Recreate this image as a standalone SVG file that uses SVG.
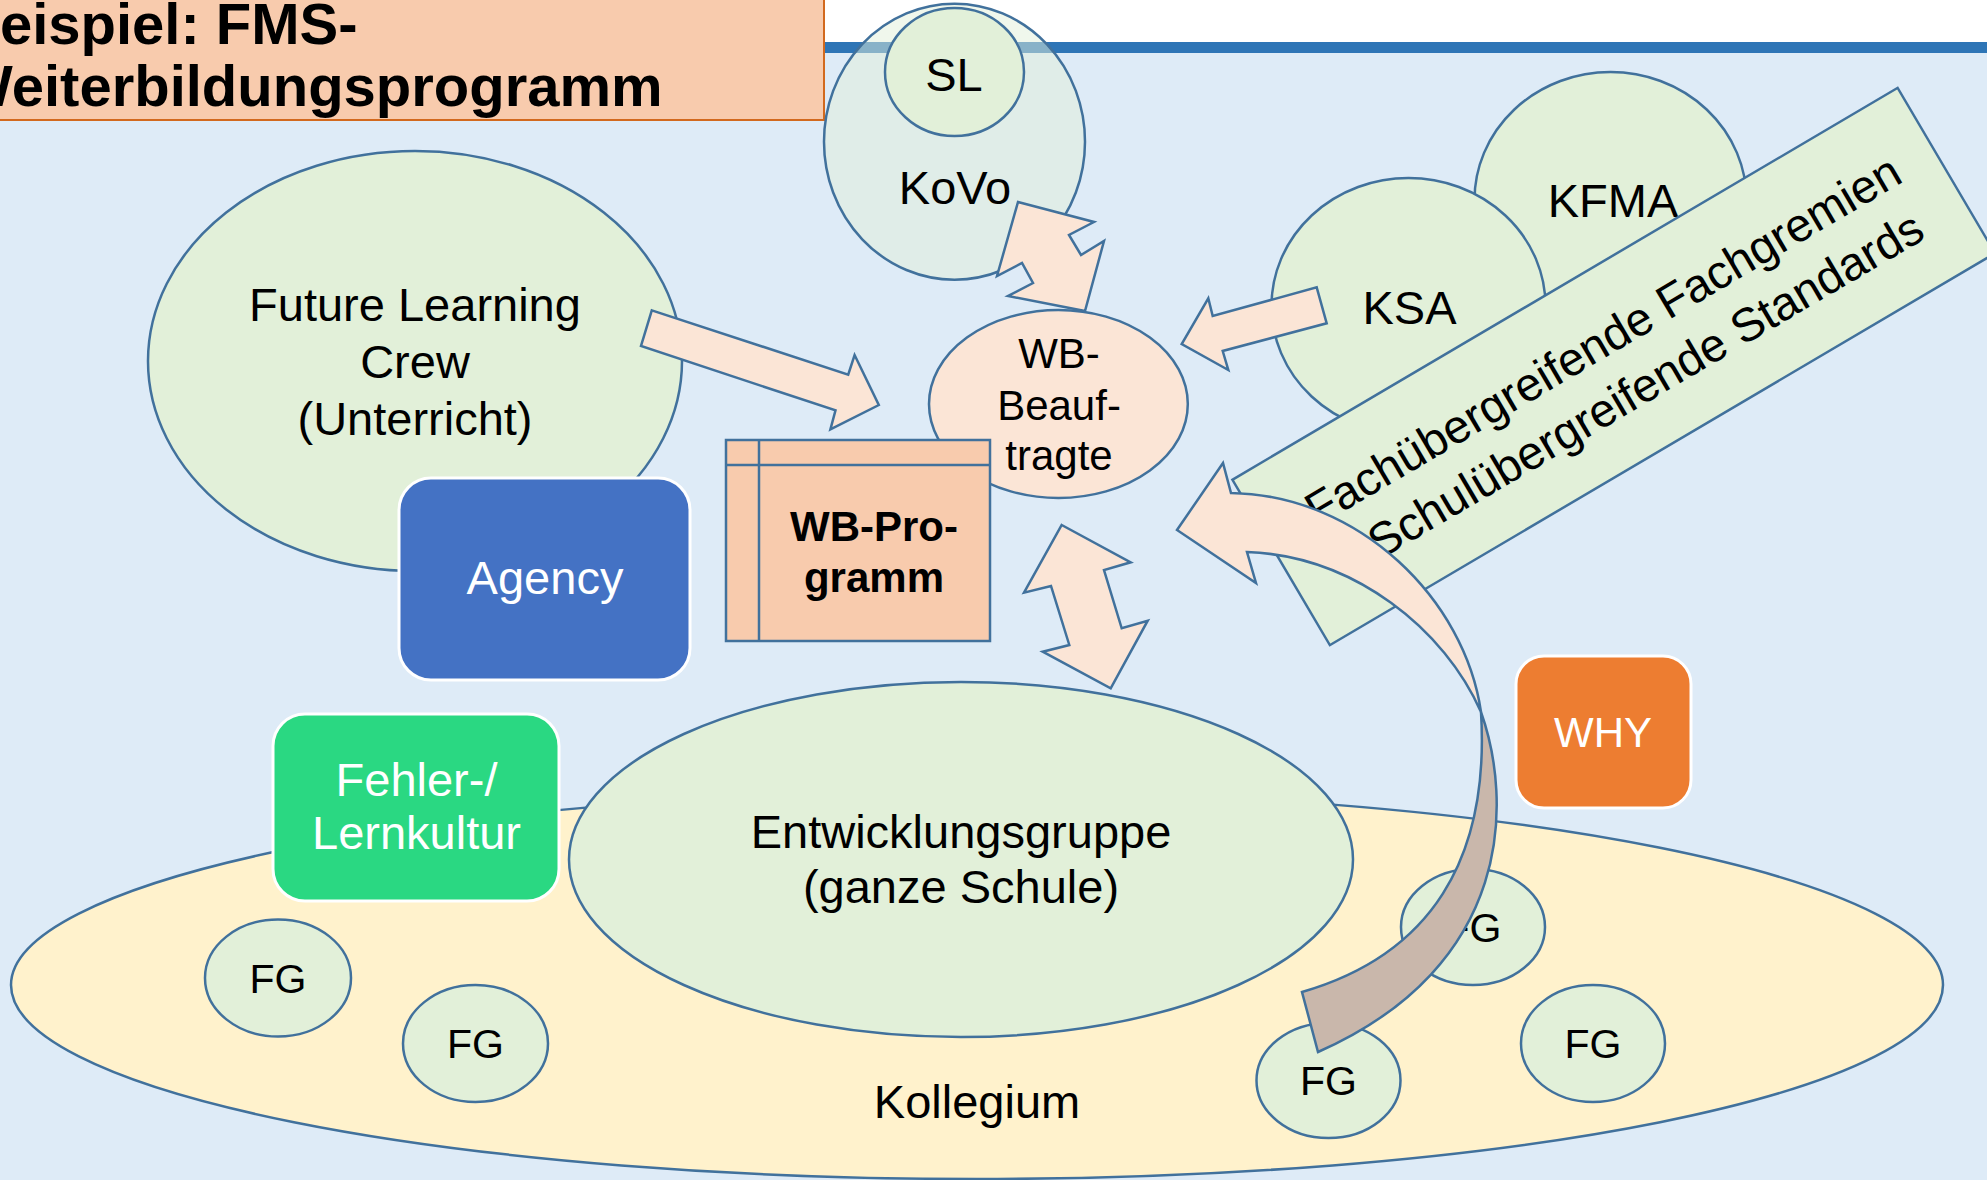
<svg xmlns="http://www.w3.org/2000/svg" width="1987" height="1180" viewBox="0 0 1987 1180">
<style>
text{font-family:"Liberation Sans",Arial,sans-serif;fill:#000;text-anchor:middle}
.big{font-size:47px}
.sm{font-size:42px}
.fg{font-size:41px}
.w{fill:#fff}
.b{font-weight:bold}
.ln{stroke:#41719c;stroke-width:2.5}
.green{fill:#e2f0d9}
.peach{fill:#fbe5d6}
.arr{fill:#fbe5d6;stroke:#41719c;stroke-width:2.5;stroke-linejoin:miter}
.box{stroke:#fff;stroke-width:3}
.ttl{font-size:58px;font-weight:bold;text-anchor:start}
</style>
<rect x="0" y="0" width="1987" height="1180" fill="#fff"/>
<rect x="0" y="53" width="1987" height="1127" fill="#deebf7"/>
<rect x="0" y="42" width="1987" height="11" fill="#2e75b6"/>

<g id="title">
<rect x="-60" y="-10" width="884" height="130" fill="#f8cbad" stroke="#d2691e" stroke-width="2"/>
<text class="ttl" x="-42" y="44">Beispiel: FMS-</text>
<text class="ttl" x="-42" y="106">Weiterbildungsprogramm</text>
</g>

<g id="kollegium">
<ellipse cx="977" cy="985" rx="966" ry="194" fill="#fff2cc" class="ln"/>
<text class="big" x="977" y="1118">Kollegium</text>
</g>

<g id="fg1"><ellipse cx="278" cy="978" rx="73" ry="58.5" class="green ln"/><text class="fg" x="278" y="993">FG</text></g>
<g id="fg2"><ellipse cx="475.5" cy="1043.5" rx="72.5" ry="58.5" class="green ln"/><text class="fg" x="475.5" y="1058">FG</text></g>
<g id="fg3"><ellipse cx="1473" cy="927" rx="72" ry="58" class="green ln"/><text class="fg" x="1473" y="942">FG</text></g>
<g id="fg4"><ellipse cx="1593" cy="1043.5" rx="72" ry="58.5" class="green ln"/><text class="fg" x="1593" y="1058">FG</text></g>
<g id="fg5"><ellipse cx="1328.5" cy="1080.5" rx="72" ry="57.5" class="green ln"/><text class="fg" x="1328.5" y="1095">FG</text></g>

<g id="entwicklungsgruppe">
<ellipse cx="961" cy="859.5" rx="392" ry="177.5" class="green ln"/>
<text class="big" x="961" y="848">Entwicklungsgruppe</text>
<text class="big" x="961" y="903">(ganze Schule)</text>
</g>

<g id="fehlerkultur">
<rect x="273" y="714" width="286" height="187" rx="32" ry="32" fill="#2ad882" class="box"/>
<text class="big w" x="416.5" y="796">Fehler-/</text>
<text class="big w" x="416.5" y="849">Lernkultur</text>
</g>

<g id="flc">
<ellipse cx="415" cy="361" rx="267" ry="210" class="green ln"/>
<text class="big" x="415" y="321">Future Learning</text>
<text class="big" x="415" y="378">Crew</text>
<text class="big" x="415" y="435">(Unterricht)</text>
</g>

<g id="agency">
<rect x="399" y="478" width="291" height="202" rx="32" ry="32" fill="#4472c4" class="box"/>
<text class="big w" x="545" y="594">Agency</text>
</g>

<g id="why">
<rect x="1516" y="656" width="175" height="152" rx="28" ry="28" fill="#ed7d31" class="box"/>
<text class="sm w" x="1603" y="747">WHY</text>
</g>

<g id="kovo">
<ellipse cx="954.5" cy="141.7" rx="130.5" ry="138" fill="#e2f0d9" fill-opacity="0.5" class="ln"/>
<text class="big" x="955" y="204">KoVo</text>
</g>
<g id="sl">
<ellipse cx="954.5" cy="72" rx="69.5" ry="64" class="green ln"/>
<text class="big" x="954" y="91">SL</text>
</g>

<g id="kfma">
<ellipse cx="1610.5" cy="200" rx="136" ry="128" class="green ln"/>
<text class="big" x="1613" y="217">KFMA</text>
</g>
<g id="ksa">
<ellipse cx="1408.5" cy="306" rx="137" ry="128" class="green ln"/>
<text class="big" x="1409.5" y="324">KSA</text>
</g>

<g id="standards" transform="translate(1613.75,366.5) rotate(-30.5)">
<rect x="-386" y="-96" width="772" height="192" class="green ln"/>
<text class="big" x="4" y="-12">Fachübergreifende Fachgremien</text>
<text class="big" x="18" y="48">Schulübergreifende Standards</text>
</g>

<g id="wb-beauftragte">
<ellipse cx="1058.4" cy="404" rx="129.4" ry="94" class="peach ln"/>
<text class="sm" x="1059" y="368">WB-</text>
<text class="sm" x="1059" y="420">Beauf-</text>
<text class="sm" x="1059" y="470">tragte</text>
</g>

<g id="wb-programm">
<rect x="726" y="440" width="264" height="201" fill="#f8cbad" class="ln"/>
<line x1="759" y1="440" x2="759" y2="641" class="ln"/>
<line x1="726" y1="465" x2="990" y2="465" class="ln"/>
<text class="sm b" x="874" y="541">WB-Pro-</text>
<text class="sm b" x="874" y="592">gramm</text>
</g>

<g id="connectors">
<polygon class="arr" points="651.8,310.4 848.2,374.6 854.6,355 878.8,405 830.4,429.3 835.5,410.4 641,346"/>
<polygon class="arr" points="1018,202 1094,222 1069,235 1081,255 1104,241 1085,311 1008,296 1033,283 1022,263 997,276"/>
<polygon class="arr" points="1316.7,287.3 1326.7,323.3 1222.7,351 1228.3,370 1181.7,344 1208.3,298.3 1212.7,316"/>
<polygon class="arr" points="1061.7,525 1130.7,562.3 1104,570 1121.7,628.3 1147.7,620.7 1110.7,688.3 1042.7,651.7 1069.3,645 1051,586 1024,592.7"/>
<path fill="#c9b7ab" stroke="#41719c" stroke-width="2.5" d="M1481,712 C1512,800 1515,965 1318,1052 L1302,992 C1430,955 1490,860 1481,712 Z"/>
<path class="arr" d="M1231,493 C1360,495 1465,600 1481,712 C1445,630 1355,556 1247,552 L1256,583 L1177,530 L1223,463 Z"/>
</g>
</svg>
